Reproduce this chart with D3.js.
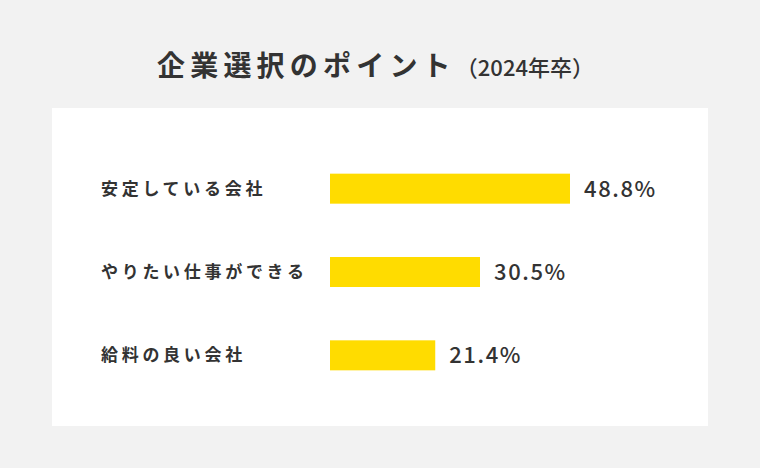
<!DOCTYPE html>
<html>
<head>
<meta charset="utf-8">
<script src="https://cdn.jsdelivr.net/npm/d3@7"></script>
<style>
    html, body { margin: 0; padding: 0; background: #f2f2f2; }
    #chart { width: 760px; height: 468px; }
</style>
</head>
<body>
<div id="chart"></div>
<script>
const categories = ['安定している会社', 'やりたい仕事ができる', '給料の良い会社'];
const values = [48.8, 30.5, 21.4];
const titleMain = '企業選択のポイント';
const titleSub = '（2024年卒）';

const width = 760;
const height = 468;
const font = '"Noto Sans CJK JP", "Noto Sans", sans-serif';
const textColor = '#333333';

const svg = d3.select('#chart')
    .append('svg')
    .attr('width', width)
    .attr('height', height);

svg.append('rect')
    .attr('width', width)
    .attr('height', height)
    .attr('fill', '#f2f2f2');

// title
const title = svg.append('text')
    .attr('x', 157)
    .attr('y', 76)
    .style('font-family', font)
    .style('fill', textColor);

title.append('tspan')
    .style('font-size', '28px')
    .style('font-weight', 'bold')
    .style('letter-spacing', '5.2px')
    .text(titleMain);

title.append('tspan')
    .attr('dx', 0)
    .style('font-size', '22px')
    .style('font-weight', '500')
    .text(titleSub);

// white panel
svg.append('rect')
    .attr('x', 52)
    .attr('y', 108)
    .attr('width', 656)
    .attr('height', 318)
    .attr('fill', '#ffffff');

const x = d3.scaleLinear()
    .domain([0, d3.max(values)])
    .range([330, 570]);

const y = d3.scaleBand()
    .domain(categories)
    .range([147, 397])
    .paddingInner(0.64)
    .paddingOuter(0.32);

const rows = svg.selectAll('g.row')
    .data(categories.map((c, i) => ({ name: c, value: values[i] })))
    .enter().append('g')
    .attr('class', 'row');

rows.append('rect')
    .attr('x', x(0))
    .attr('y', d => y(d.name))
    .attr('width', d => x(d.value) - x(0))
    .attr('height', y.bandwidth())
    .attr('fill', '#ffdc00');

rows.append('text')
    .attr('x', 101)
    .attr('y', d => y(d.name) + y.bandwidth() / 2)
    .attr('dy', '0.36em')
    .style('font-family', font)
    .style('font-size', '17px')
    .style('font-weight', 'bold')
    .style('letter-spacing', '3.7px')
    .style('fill', textColor)
    .text(d => d.name);

rows.append('text')
    .attr('x', d => x(d.value) + 14)
    .attr('y', d => y(d.name) + y.bandwidth() / 2)
    .attr('dy', '0.36em')
    .style('font-family', font)
    .style('font-size', '22px')
    .style('font-weight', '500')
    .style('letter-spacing', '1.6px')
    .style('fill', textColor)
    .text(d => d.value.toFixed(1) + '%');
</script>
</body>
</html>
